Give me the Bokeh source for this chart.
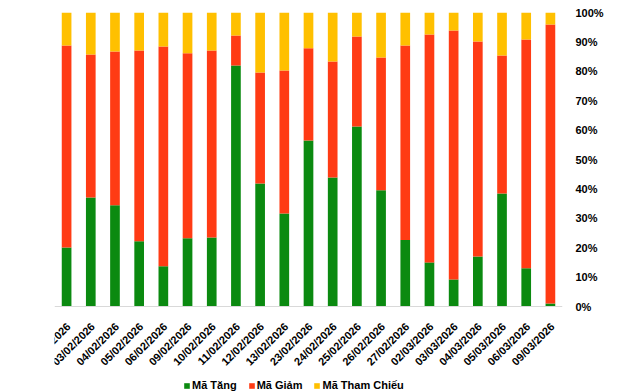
from bokeh.plotting import figure
from bokeh.models import (ColumnDataSource, FactorRange, LinearAxis, FixedTicker,
                          PrintfTickFormatter, Legend, LegendItem, Range1d, Span)
from bokeh.core.properties import value
from bokeh.embed import file_html
from bokeh.resources import INLINE
import math

dates = ["02/02/2026", "03/02/2026", "04/02/2026", "05/02/2026", "06/02/2026",
         "09/02/2026", "10/02/2026", "11/02/2026", "12/02/2026", "13/02/2026",
         "23/02/2026", "24/02/2026", "25/02/2026", "26/02/2026", "27/02/2026",
         "02/03/2026", "03/03/2026", "04/03/2026", "05/03/2026", "06/03/2026",
         "09/03/2026"]
ma_tang = [20.1, 37.1, 34.4, 22.2, 13.7, 23.2, 23.5, 82.0, 41.8, 31.6, 56.5,
           43.9, 61.2, 39.5, 22.6, 15.0, 9.2, 17.0, 38.4, 13.0, 1.0]
ma_giam = [68.7, 48.6, 52.3, 64.9, 74.7, 62.9, 63.6, 10.2, 37.8, 48.7, 31.3,
           39.4, 30.6, 45.2, 66.2, 77.5, 84.7, 73.1, 47.0, 77.8, 94.9]
ma_tham_chieu = [11.2, 14.3, 13.3, 12.9, 11.6, 13.9, 12.9, 7.8, 20.4, 19.7, 12.2,
                 16.7, 8.2, 15.3, 11.2, 7.5, 6.1, 9.9, 14.6, 9.2, 4.1]
series_names = ["Mã Tăng", "Mã Giảm", "Mã Tham Chiếu"]
colors = ["#0B8A10", "#FF3B14", "#FFC000"]
y_ticks = [0, 10, 20, 30, 40, 50, 60, 70, 80, 90, 100]

source = ColumnDataSource(dict(date=dates, tang=ma_tang, giam=ma_giam, tham=ma_tham_chieu))

# layout: 100% at 294 px above the baseline, 85 px of room below it for labels + legend
px_per_unit = 294 / 100.0
below_px = 85
y_start = -below_px / px_per_unit
label_y = -18 / px_per_unit

p = figure(x_range=FactorRange(*dates, range_padding=0), y_range=Range1d(y_start, 100),
           frame_width=508, frame_height=294 + below_px, output_backend="svg",
           toolbar_location=None, x_axis_location=None, y_axis_location=None,
           min_border_left=54, min_border_top=12, min_border_right=70,
           min_border_bottom=0)
p.outline_line_color = None
p.background_fill_color = "white"
p.border_fill_color = "white"
p.grid.grid_line_color = None

renderers = p.vbar_stack(["tang", "giam", "tham"], x="date", width=0.4,
                         color=colors, source=source, line_color=None)

font = "Liberation Sans"

# baseline (category axis line)
p.add_layout(Span(location=0, dimension="width", line_color="#D9D9D9", line_width=1))

# rotated category labels
p.text(x="date", y=label_y, text="date", source=source, angle=math.pi / 4,
       text_align="right", text_baseline="middle", x_offset=2,
       text_font=value(font), text_font_size="11px", text_font_style="bold",
       text_color="#000000")

yaxis = LinearAxis(ticker=FixedTicker(ticks=y_ticks),
                   formatter=PrintfTickFormatter(format="%d%%"))
yaxis.axis_line_color = None
yaxis.major_tick_line_color = None
yaxis.minor_tick_line_color = None
yaxis.major_tick_out = 0
yaxis.major_label_standoff = 13
yaxis.major_label_text_font = font
yaxis.major_label_text_font_size = "11px"
yaxis.major_label_text_font_style = "bold"
yaxis.major_label_text_color = "#000000"
p.add_layout(yaxis, "right")

legend = Legend(items=[LegendItem(label=n, renderers=[r]) for n, r in zip(series_names, renderers)],
                orientation="horizontal", location=(129, 0),
                glyph_width=7, glyph_height=7, label_standoff=2, spacing=11,
                padding=0, margin=0, border_line_color=None,
                background_fill_alpha=0,
                label_text_font=font, label_text_font_size="11px",
                label_text_font_style="bold", label_text_color="#000000",
                label_height=12)
p.add_layout(legend, "center")

open("out.html", "w").write(file_html(p, INLINE))
